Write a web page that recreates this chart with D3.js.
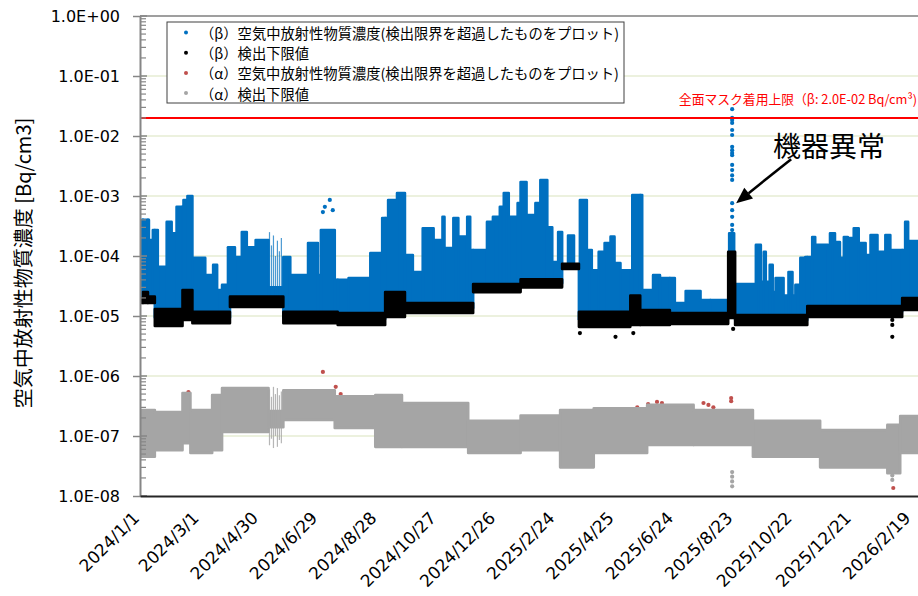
<!DOCTYPE html>
<html><head><meta charset="utf-8">
<script src="https://cdn.jsdelivr.net/npm/d3@7"></script>
<style>body{margin:0;background:#fff;} svg{display:block;}</style>
</head><body>
<svg id="c" width="918" height="596"></svg>
<script>
// ---------- DATA ----------
// (β) airborne concentration above detection limit: contiguous date ranges and the highest value in each
const betaDates = ["2024-01-01","2024-01-03","2024-01-10","2024-01-14","2024-01-19","2024-01-28","2024-02-02","2024-02-07","2024-02-14","2024-02-18","2024-02-23","2024-03-07","2024-03-15","2024-03-19","2024-03-24","2024-03-30","2024-04-06","2024-04-13","2024-04-18","2024-04-27","2024-05-10","2024-05-25","2024-06-01","2024-06-19","2024-06-29","2024-07-02","2024-07-16","2024-07-30","2024-08-21","2024-09-02","2024-09-08","2024-09-17","2024-09-25","2024-10-03","2024-10-13","2024-10-24","2024-11-02","2024-11-04","2024-11-13","2024-11-18","2024-11-27","2024-11-30","2024-12-17","2024-12-23","2024-12-30","2025-01-03","2025-01-08","2025-01-17","2025-01-20","2025-01-26","2025-02-04","2025-02-09","2025-02-16","2025-02-21","2025-02-27","2025-03-03","2025-03-09","2025-03-15","2025-03-21","2025-03-28","2025-04-02","2025-04-09","2025-04-15","2025-04-21","2025-04-25","2025-05-01","2025-05-13","2025-05-23","2025-06-03","2025-06-10","2025-06-25","2025-07-06","2025-07-21","2025-07-31","2025-08-19","2025-08-24","2025-09-15","2025-09-20","2025-09-23","2025-09-25","2025-09-29","2025-10-02","2025-10-05","2025-10-13","2025-10-18","2025-10-22","2025-10-25","2025-10-30","2025-11-04","2025-11-11","2025-11-14","2025-11-27","2025-11-29","2025-12-04","2025-12-09","2025-12-13","2025-12-17","2025-12-23","2025-12-28","2026-01-04","2026-01-09","2026-01-16","2026-01-24","2026-01-29","2026-02-13","2026-02-16","2026-02-26"];
const betaHigh = [3.3e-5,4.0e-4,1.85e-4,2.7e-4,6.6e-5,3.7e-4,2.4e-4,6.6e-4,8.6e-4,1.0e-3,9.3e-5,4.8e-5,7.1e-5,2.7e-5,3.3e-5,1.4e-4,9.6e-5,2.5e-4,1.4e-4,1.85e-4,3.0e-5,9.6e-5,4.8e-5,1.65e-4,4.8e-5,2.7e-4,4.0e-5,4.3e-5,1.12e-4,4.3e-4,8.6e-4,1.12e-3,1.04e-4,5.4e-5,2.9e-4,1.85e-4,4.5e-4,1.36e-4,4.3e-4,2.1e-4,4.5e-4,1.26e-4,3.7e-4,4.5e-4,6.6e-4,1.12e-3,4.5e-4,7.6e-4,1.71e-3,4.8e-4,7.6e-4,1.85e-3,3.0e-4,7.9e-5,2.5e-4,6.5e-5,2.2e-4,6.5e-5,8.6e-4,1.26e-4,5.8e-5,1.17e-4,1.65e-4,2.1e-4,7.6e-5,5.8e-5,1.04e-3,2.7e-5,4.8e-5,4.3e-5,1.65e-5,2.6e-5,1.85e-5,1.85e-5,2.4e-4,3.4e-5,1.53e-4,3.7e-5,1.17e-4,3.7e-5,7.1e-5,2.5e-5,4.3e-5,2.2e-5,5.4e-5,2.2e-5,3.3e-5,9.3e-5,9.6e-5,2.07e-4,1.53e-4,1.3e-4,2.4e-4,1.7e-4,9.3e-5,2.07e-4,2.0e-4,2.9e-4,1.65e-4,1.04e-4,2.24e-4,1.17e-4,2.24e-4,1.26e-4,3.7e-4,1.78e-4];
// isolated (β) points
const betaDotDates  = ["2024-07-04","2024-07-06","2024-07-11","2024-07-14","2025-08-22","2025-08-22","2025-08-22","2025-08-22","2025-08-22","2025-08-22","2025-08-22","2025-08-22","2025-08-22","2025-08-22","2025-08-22","2025-08-22","2025-08-22","2025-08-22","2025-08-22","2025-08-22","2025-08-22","2025-08-22","2025-08-22"];
const betaDotValues = [5.4e-4,6.6e-4,8.6e-4,5.8e-4,2.8e-2,2.0e-2,1.85e-2,1.65e-2,1.26e-2,1.04e-2,6.6e-3,5.8e-3,5.2e-3,4.8e-3,3.3e-3,2.7e-3,2.2e-3,1.85e-3,7.6e-4,5.8e-4,4.5e-4,3.3e-4,2.7e-4];
// thin traces (β and α) in May 2024
const traceDates = ["2024-05-11","2024-05-13","2024-05-15","2024-05-17","2024-05-19","2024-05-21","2024-05-23"];
const traceBetaHigh = [2.5e-4,1.5e-4,2.2e-4,1.0e-4,1.8e-4,1.2e-4,2.0e-4];
const traceAlphaHigh = [6.0e-7,4.5e-7,6.6e-7,5.0e-7,6.3e-7,4.8e-7,5.5e-7];
const traceAlphaLow  = [7.0e-8,9.0e-8,6.3e-8,1.0e-7,6.6e-8,8.6e-8,7.6e-8];

// (β) detection lower limit: date ranges, upper and lower edge of the band
const dlBetaDates = ["2024-01-01","2024-01-04","2024-01-09","2024-01-16","2024-02-13","2024-02-23","2024-04-01","2024-05-25","2024-07-19","2024-09-05","2024-09-25","2024-12-03","2025-01-20","2025-03-03","2025-03-20","2025-05-11","2025-05-21","2025-06-20","2025-08-18","2025-08-25","2025-11-06","2026-02-10","2026-02-26"];
const dlBetaHigh = [2.0e-5,2.5e-5,2.1e-5,1.3e-5,2.7e-5,1.17e-5,2.1e-5,1.17e-5,1.12e-5,2.5e-5,1.65e-5,3.4e-5,4.1e-5,7.4e-5,1.17e-5,2.2e-5,1.26e-5,1.12e-5,1.17e-4,1.04e-5,1.47e-5,2.0e-5];
const dlBetaLow  = [1.65e-5,1.65e-5,1.65e-5,6.8e-6,8.6e-6,7.6e-6,1.41e-5,7.6e-6,7.1e-6,9.6e-6,1.12e-5,2.5e-5,3.0e-5,6.1e-5,6.6e-6,7.1e-6,7.1e-6,7.4e-6,9.3e-6,7.1e-6,9.6e-6,1.26e-5];
const dlBetaDotDates  = ["2025-03-21","2025-04-26","2025-05-14","2025-08-23","2026-01-31","2026-01-31","2026-01-31"];
const dlBetaDotValues = [5.2e-6,4.5e-6,5.2e-6,6.1e-6,8.6e-6,7.1e-6,4.5e-6];

// (α) airborne concentration above detection limit
const alphaDates  = ["2024-02-15","2024-02-19","2024-04-23","2024-07-04","2024-07-17","2024-07-22","2025-05-01","2025-05-11","2025-05-18","2025-05-29","2025-06-07","2025-06-10","2025-06-12","2025-06-13","2025-06-18","2025-06-25","2025-07-01","2025-07-08","2025-07-14","2025-07-24","2025-07-29","2025-08-03","2025-08-21","2025-08-21","2026-02-01"];
const alphaValues = [5.0e-7,5.4e-7,5.4e-7,1.17e-6,6.6e-7,5.0e-7,2.5e-7,2.8e-7,3.0e-7,3.4e-7,3.7e-7,2.8e-7,3.55e-7,3.0e-7,3.0e-7,3.1e-7,2.9e-7,3.0e-7,2.5e-7,3.55e-7,3.3e-7,3.0e-7,4.3e-7,3.8e-7,1.36e-8];

// (α) detection lower limit
const dlAlphaDates = ["2024-01-01","2024-01-16","2024-02-13","2024-02-21","2024-03-14","2024-03-24","2024-05-10","2024-05-25","2024-07-16","2024-08-26","2024-09-22","2024-11-28","2025-01-20","2025-03-01","2025-04-04","2025-05-28","2025-07-14","2025-09-12","2025-11-19","2026-01-26","2026-02-08","2026-02-26"];
const dlAlphaHigh = [2.7e-7,2.5e-7,5.2e-7,2.7e-7,4.8e-7,6.3e-7,2.6e-7,5.8e-7,4.6e-7,4.8e-7,3.55e-7,1.8e-7,2.2e-7,2.7e-7,2.9e-7,3.3e-7,2.7e-7,1.8e-7,1.26e-7,1.53e-7,2.15e-7];
const dlAlphaLow  = [4.5e-8,5.8e-8,7.6e-8,5.2e-8,5.8e-8,1.17e-7,1.4e-7,1.85e-7,1.36e-7,6.6e-8,6.6e-8,5.2e-8,5.8e-8,3.0e-8,5.2e-8,7.1e-8,7.1e-8,4.5e-8,3.0e-8,2.4e-8,5.2e-8];
const dlAlphaDotDates  = ["2025-08-22","2025-08-22","2025-08-22","2025-08-22","2026-01-31","2026-01-31"];
const dlAlphaDotValues = [2.5e-8,2.1e-8,1.75e-8,1.45e-8,2.2e-8,1.85e-8];

// axes
const yTickValues = [1,1e-1,1e-2,1e-3,1e-4,1e-5,1e-6,1e-7,1e-8];
const yTickLabels = ["1.0E+00","1.0E-01","1.0E-02","1.0E-03","1.0E-04","1.0E-05","1.0E-06","1.0E-07","1.0E-08"];
const xTickLabels = ["2024/1/1","2024/3/1","2024/4/30","2024/6/29","2024/8/28","2024/10/27","2024/12/26","2025/2/24","2025/4/25","2025/6/24","2025/8/23","2025/10/22","2025/12/21","2026/2/19"];
const limitValue = 2.0e-2;
const limitLabel = "全面マスク着用上限（β: 2.0E-02 Bq/cm³)";
const legendLabels = ["（β）空気中放射性物質濃度(検出限界を超過したものをプロット)","（β）検出下限値","（α）空気中放射性物質濃度(検出限界を超過したものをプロット)","（α）検出下限値"];
const colors = {beta:"#0070C0", dlBeta:"#000000", alpha:"#C0504D", dlAlpha:"#A5A5A5"};

// ---------- CHART ----------
const svg = d3.select("#c");
const parse = d3.utcParse("%Y-%m-%d");
const parseSlash = s => { const p = s.split("/").map(Number); return new Date(Date.UTC(p[0], p[1]-1, p[2])); };
const L = 140, R = 918, T = 16, B = 496;
const x = d3.scaleUtc().domain([parse("2024-01-01"), parse("2026-02-26")]).range([L, R]);
const y = d3.scaleLog().domain([1e-8, 1]).range([B, T]);
const CJK = "'Noto Sans CJK JP','Noto Sans',sans-serif";
const NUM = "'DejaVu Sans',sans-serif";

// gridlines
svg.append("g").selectAll("line").data(yTickValues.slice(1, -1)).join("line")
  .attr("x1", L).attr("x2", R).attr("y1", d => y(d)).attr("y2", d => y(d))
  .attr("stroke", "#d9e4be").attr("stroke-width", 1.2);

svg.append("defs").append("clipPath").attr("id", "pc").append("rect")
  .attr("x", L).attr("y", T).attr("width", R - L).attr("height", B - T);
const plot = svg.append("g").attr("clip-path", "url(#pc)");

function segs(dates, hi, lo) {
  return hi.map((h, i) => ({t0: parse(dates[i]), t1: parse(dates[i + 1]), hi: h, lo: lo ? lo[i] : null}));
}
function band(g, data, color) {
  g.selectAll(null).data(data).join("rect")
    .attr("x", d => x(d.t0)).attr("width", d => Math.max(1, x(d.t1) - x(d.t0)))
    .attr("y", d => y(d.hi)).attr("height", d => Math.max(1, y(d.lo) - y(d.hi)))
    .attr("fill", color).attr("stroke", color).attr("stroke-width", 2.6).attr("stroke-linejoin", "round");
}
function dots(g, dates, vals, color, r) {
  g.selectAll(null).data(vals.map((v, i) => ({t: parse(dates[i]), v}))).join("circle")
    .attr("cx", d => x(d.t)).attr("cy", d => y(d.v)).attr("r", r).attr("fill", color);
}

const blackSegs = segs(dlBetaDates, dlBetaHigh, dlBetaLow);
const blueSegs = segs(betaDates, betaHigh);
const bluePieces = [];
blueSegs.forEach(b => blackSegs.forEach(k => {
  const t0 = Math.max(+b.t0, +k.t0), t1 = Math.min(+b.t1, +k.t1);
  if (t1 > t0 && b.hi > k.hi) bluePieces.push({t0: new Date(t0), t1: new Date(t1), hi: b.hi, lo: Math.sqrt(k.hi * k.lo)});
}));

// (β) concentration
const gBeta = plot.append("g");
band(gBeta, bluePieces, colors.beta);
gBeta.selectAll(null).data(traceDates.map((d, i) => ({t: parse(d), v: traceBetaHigh[i]}))).join("line")
  .attr("x1", d => x(d.t)).attr("x2", d => x(d.t)).attr("y1", d => y(d.v)).attr("y2", y(2.0e-5))
  .attr("stroke", colors.beta).attr("stroke-width", 1.2).attr("opacity", 0.7);
dots(gBeta, betaDotDates, betaDotValues, colors.beta, 2.1);
// (β) detection limit
const gDlb = plot.append("g");
band(gDlb, blackSegs, colors.dlBeta);
dots(gDlb, dlBetaDotDates, dlBetaDotValues, colors.dlBeta, 2.1);
// (α) concentration
const gAlpha = plot.append("g");
dots(gAlpha, alphaDates, alphaValues, colors.alpha, 2.1);
// (α) detection limit
const gDla = plot.append("g");
band(gDla, segs(dlAlphaDates, dlAlphaHigh, dlAlphaLow), colors.dlAlpha);
gDla.selectAll(null).data(traceDates.map((d, i) => ({t: parse(d), hi: traceAlphaHigh[i], lo: traceAlphaLow[i]}))).join("line")
  .attr("x1", d => x(d.t)).attr("x2", d => x(d.t)).attr("y1", d => y(d.hi)).attr("y2", d => y(d.lo))
  .attr("stroke", colors.dlAlpha).attr("stroke-width", 1.2).attr("opacity", 0.8);
dots(gDla, dlAlphaDotDates, dlAlphaDotValues, colors.dlAlpha, 2.1);

// limit line
svg.append("line").attr("x1", L).attr("x2", R).attr("y1", y(limitValue)).attr("y2", y(limitValue))
  .attr("stroke", "#FF0000").attr("stroke-width", 2);
svg.append("text").attr("x", 917).attr("y", y(limitValue) - 14).attr("text-anchor", "end")
  .attr("font-family", CJK).attr("font-size", 12.8).attr("fill", "#FF0000").text(limitLabel);

// top border
svg.append("line").attr("x1", L).attr("x2", R).attr("y1", T).attr("y2", T).attr("stroke", "#7f7f7f").attr("stroke-width", 1.5);

// y axis
const yAxis = d3.axisLeft(y).tickValues(yTickValues).tickFormat((d, i) => yTickLabels[i])
  .tickSizeInner(7).tickSizeOuter(0).tickPadding(13);
const gy = svg.append("g").attr("transform", `translate(${L},0)`).call(yAxis);
gy.select(".domain").attr("stroke", "#868686").attr("stroke-width", 2);
gy.selectAll(".tick line").attr("stroke", "#868686").attr("stroke-width", 1.5);
gy.selectAll(".tick text").attr("font-family", NUM).attr("font-size", 16).attr("fill", "#000");
// inner major + minor ticks
const minor = [];
yTickValues.slice(1).forEach(dec => { for (let m = 2; m <= 9; m++) minor.push(dec * m); });
svg.append("g").selectAll("line").data(minor).join("line")
  .attr("x1", L).attr("x2", L + 6).attr("y1", d => y(d)).attr("y2", d => y(d))
  .attr("stroke", "#868686").attr("stroke-width", 1.2);
svg.append("g").selectAll("line").data(yTickValues).join("line")
  .attr("x1", L).attr("x2", L + 7).attr("y1", d => y(d)).attr("y2", d => y(d))
  .attr("stroke", "#868686").attr("stroke-width", 1.5);

// x axis
const xAxis = d3.axisBottom(x).tickValues(xTickLabels.map(parseSlash)).tickFormat((d, i) => xTickLabels[i])
  .tickSize(0).tickPadding(0);
const gx = svg.append("g").attr("transform", `translate(0,${B})`).call(xAxis);
gx.select(".domain").attr("stroke", "#262626").attr("stroke-width", 2);
gx.selectAll(".tick text").attr("font-family", NUM).attr("font-size", 17).attr("fill", "#000")
  .attr("text-anchor", "end").attr("dy", 0).attr("y", 0)
  .attr("transform", "translate(0,23) rotate(-45)");

// y title
svg.append("text").attr("transform", "translate(22,263) rotate(-90)").attr("text-anchor", "middle")
  .attr("dominant-baseline", "central").attr("font-family", CJK).attr("font-size", 20).attr("fill", "#000")
  .text("空気中放射性物質濃度 [Bq/cm3]");

// legend
const lg = svg.append("g").attr("transform", "translate(167,22)");
lg.append("rect").attr("width", 457).attr("height", 81).attr("fill", "#fff").attr("stroke", "#404040").attr("stroke-width", 1);
const lgColors = [colors.beta, colors.dlBeta, colors.alpha, colors.dlAlpha];
const items = lg.selectAll("g.it").data(legendLabels).join("g").attr("class", "it")
  .attr("transform", (d, i) => `translate(0,${10.5 + i * 20.2})`);
items.append("circle").attr("cx", 19).attr("cy", 0).attr("r", 2).attr("fill", (d, i) => lgColors[i]);
items.append("text").attr("x", 33).attr("y", 0).attr("dominant-baseline", "central")
  .attr("font-family", CJK).attr("font-size", 14.3).attr("fill", "#000").text(d => d);

// annotation
const tipX = x(parse("2025-08-22")) + 4, tipY = y(7.6e-4);
svg.append("text").attr("x", 773).attr("y", 157).attr("font-family", CJK).attr("font-size", 28).attr("fill", "#000").text("機器異常");
const sx = tipX + 55, sy = tipY - 44;
const ang = Math.atan2(tipY - sy, tipX - sx);
const ah = 16, aw = 7;
const bx = tipX - ah * Math.cos(ang), by = tipY - ah * Math.sin(ang);
svg.append("line").attr("x1", sx).attr("y1", sy).attr("x2", bx).attr("y2", by).attr("stroke", "#000").attr("stroke-width", 2.5);
svg.append("polygon").attr("fill", "#000").attr("points", [
  [tipX, tipY],
  [bx + aw * Math.sin(ang), by - aw * Math.cos(ang)],
  [bx - aw * Math.sin(ang), by + aw * Math.cos(ang)]
].map(p => p.join(",")).join(" "));
</script>
</body></html>
